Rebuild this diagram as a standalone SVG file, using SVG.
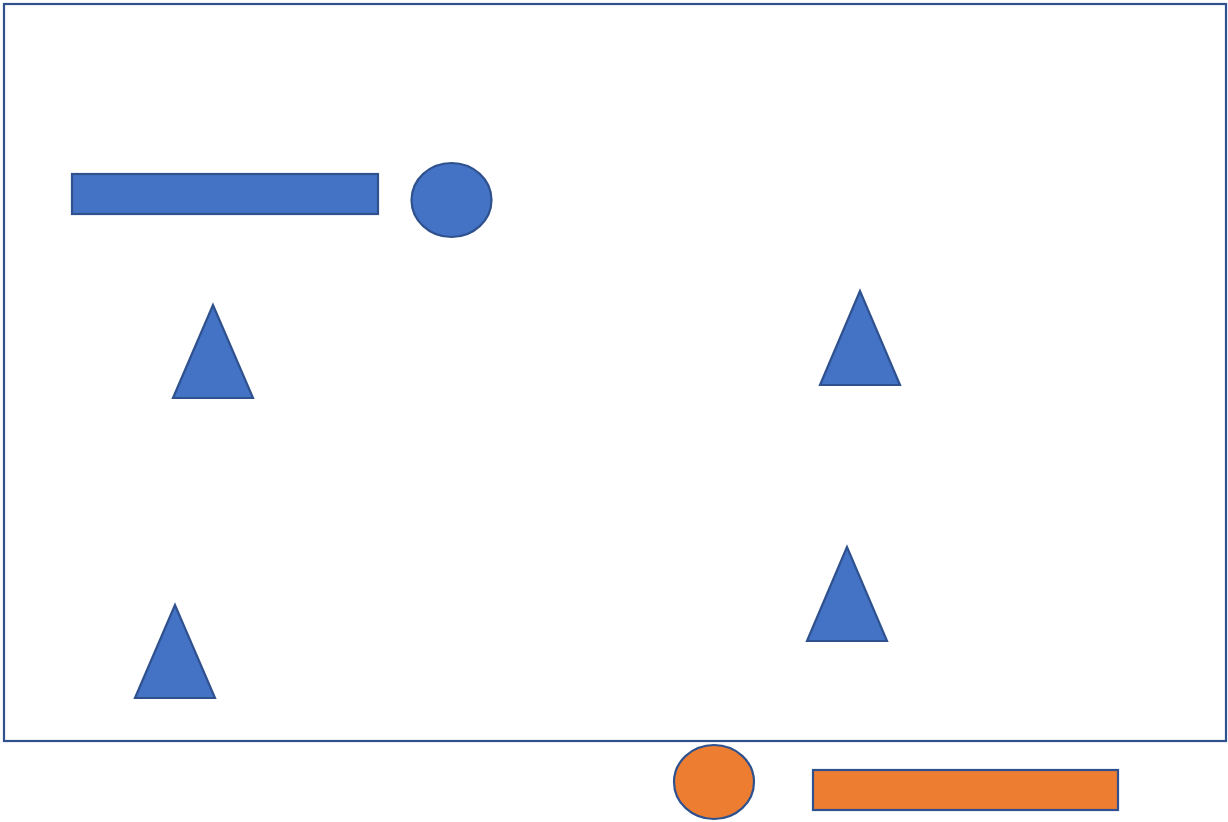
<svg xmlns="http://www.w3.org/2000/svg" width="1228" height="822" viewBox="0 0 1228 822">
<style>
.s{stroke:#2F528F;stroke-width:2.2}
.b{fill:#4472C4}
.o{fill:#ED7D31}
</style>
<rect width="1228" height="822" fill="#fff"/>
<g id="frame"><rect x="4" y="4" width="1222" height="737" fill="none" class="s"/></g>
<g id="bar1"><rect x="72" y="174" width="306" height="40" class="b s"/></g>
<g id="circle1"><ellipse cx="451.5" cy="200" rx="40" ry="37" class="b s"/></g>
<g id="tri1"><polygon points="213,305 173,398 253,398" class="b s"/></g>
<g id="tri2"><polygon points="860,291 820,385 900,385" class="b s"/></g>
<g id="tri3"><polygon points="847,547 807,641 887,641" class="b s"/></g>
<g id="tri4"><polygon points="175,605 135,698 215,698" class="b s"/></g>
<g id="circle2"><ellipse cx="714" cy="782" rx="40" ry="37" class="o s"/></g>
<g id="bar2"><rect x="813" y="770" width="305" height="40" class="o s"/></g>
<g id="connectors"></g>
</svg>
